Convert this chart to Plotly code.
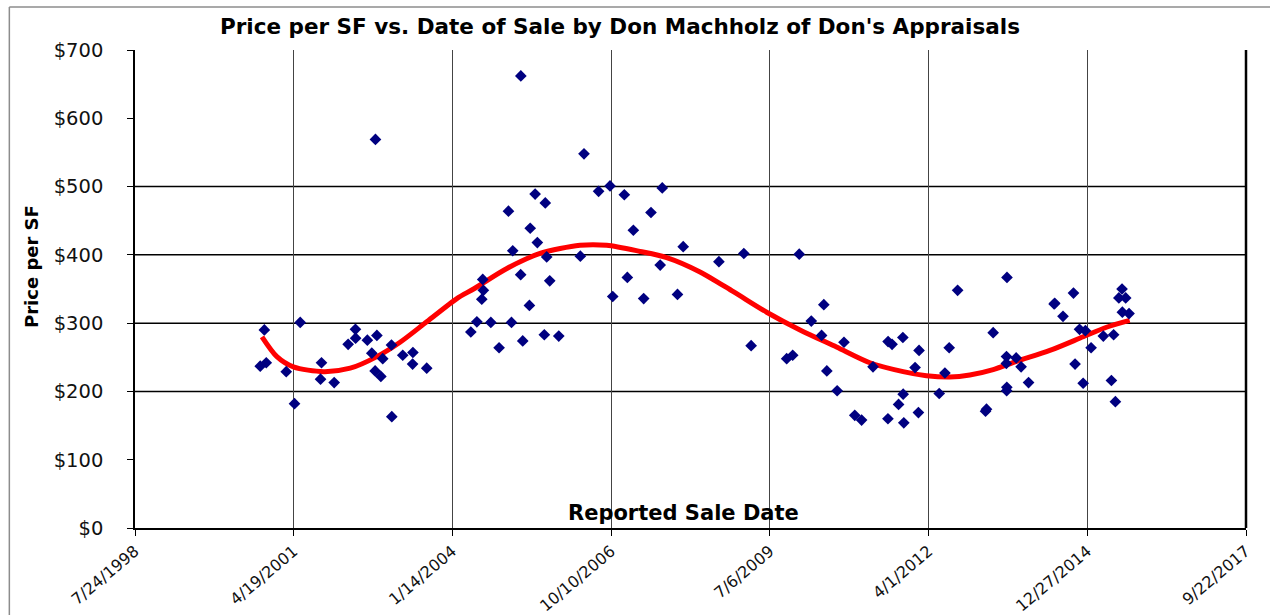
import plotly.graph_objects as go

# ---- data ----
sale_dates = [
    "2000-10-16", "2000-09-20", "2000-10-28", "2001-03-03", "2001-04-24", "2001-05-30",
    "2001-10-11", "2001-10-05", "2001-12-30", "2002-03-28", "2002-05-13", "2002-05-14",
    "2002-07-27", "2002-09-25", "2002-08-24", "2002-09-14", "2002-10-20", "2002-11-01",
    "2002-12-28", "2002-12-26", "2003-03-07", "2003-05-10", "2003-05-08", "2003-08-05",
    "2002-09-16",
    "2004-06-16", "2004-05-09", "2004-09-12", "2005-01-20", "2004-11-03", "2005-04-01",
    "2005-08-15", "2005-11-14", "2005-05-13", "2004-07-17", "2004-07-27", "2004-07-23",
    "2005-03-19", "2005-09-18", "2005-01-28", "2005-07-02", "2005-08-30", "2006-03-30",
    "2006-10-20", "2007-01-20",
    "2005-03-20", "2006-04-22", "2006-10-03", "2006-07-23", "2007-01-01", "2005-06-18",
    "2005-08-21", "2005-01-01", "2005-05-18", "2007-02-27",
    "2007-08-28", "2007-06-18", "2008-01-07", "2009-01-23", "2010-01-07", "2008-08-19",
    "2007-08-15", "2007-05-03", "2007-12-02", "2009-03-10", "2009-10-20", "2009-11-27",
    "2010-06-11", "2010-03-24", "2010-05-28", "2010-10-16", "2010-06-30", "2010-09-03",
    "2010-12-23", "2011-02-04", "2011-04-17", "2011-07-21", "2011-08-15", "2011-10-22",
    "2012-02-01", "2012-01-07", "2011-10-24", "2011-09-25", "2011-07-20", "2011-10-28",
    "2012-01-28", "2012-06-07", "2012-07-13", "2012-08-09", "2012-10-01",
    "2013-05-13", "2013-08-05", "2013-10-05", "2013-11-05", "2013-08-04", "2013-08-06",
    "2013-08-07", "2013-12-22", "2013-04-01", "2013-03-26", "2014-06-05", "2014-06-01",
    "2014-07-27", "2014-10-01", "2014-10-11", "2014-11-08", "2014-12-15", "2014-12-01",
    "2015-01-20", "2015-04-07", "2015-06-11", "2015-05-28", "2015-06-22", "2015-08-03",
    "2015-07-14", "2015-08-26", "2015-08-05", "2015-09-16", "2013-08-08",
]
price_per_sf = [
    290, 237, 242, 229, 182, 301,
    242, 218, 213, 269, 291, 278,
    275, 282, 256, 230, 222, 248,
    163, 268, 253, 257, 240, 234,
    569,
    302, 287, 301, 301, 264, 274,
    283, 281, 326, 335, 348, 364,
    371, 362, 406, 418, 397, 398,
    339, 367,
    662, 548, 501, 493, 488, 489,
    476, 464, 439, 436,
    498, 462, 412, 402, 401, 390,
    385, 336, 342, 267, 248, 253,
    327, 303, 282, 272, 230, 201,
    165, 158, 236, 273, 269, 279,
    260, 235, 196, 181, 160, 154,
    169, 197, 227, 264, 348,
    286, 251, 249, 236, 241, 201,
    206, 213, 174, 171, 329, 328,
    310, 344, 240, 291, 289, 212,
    264, 281, 283, 216, 185, 350,
    337, 337, 316, 314, 367,
]

trend_dates = [
    "2000-10-01", "2001-01-03", "2001-04-17", "2001-10-24", "2002-04-10", "2002-09-25",
    "2003-02-18", "2003-08-05", "2004-02-11", "2004-05-26", "2004-12-22", "2005-07-19",
    "2006-03-28", "2006-09-12", "2007-04-10", "2007-09-25", "2008-04-22", "2008-11-18",
    "2009-06-16", "2010-01-12", "2010-08-30", "2011-03-28", "2011-10-24", "2012-03-19",
    "2012-08-13", "2012-12-17", "2013-05-13", "2013-10-07", "2014-05-05", "2014-12-01",
    "2015-04-27", "2015-09-20",
]
trend_values = [
    280, 251, 236, 229, 234, 251,
    272, 302, 336, 350, 380, 402,
    414, 414, 405, 396, 375, 346,
    316, 290, 265, 242, 229, 223,
    221, 224, 232, 244, 260, 280,
    294, 304,
]

x_tick_dates = ["1998-07-24", "2001-04-19", "2004-01-14", "2006-10-10",
                "2009-07-06", "2012-04-01", "2014-12-27", "2017-09-22"]
x_tick_labels = ["7/24/1998", "4/19/2001", "1/14/2004", "10/10/2006",
                 "7/6/2009", "4/1/2012", "12/27/2014", "9/22/2017"]
y_tick_values = [0, 100, 200, 300, 400, 500, 600, 700]
y_tick_labels = ["$0", "$100", "$200", "$300", "$400", "$500", "$600", "$700"]
y_grid_values = [200, 300, 400, 500]

title_text = "Price per SF vs. Date of Sale by Don Machholz of Don's Appraisals"
y_title = "Price per SF"
x_title = "Reported Sale Date"

FONT = "DejaVu Sans"

fig = go.Figure()
fig.add_trace(go.Scatter(
    x=trend_dates, y=trend_values, mode="lines",
    line=dict(color="#FF0000", width=5, shape="spline", smoothing=0.8),
    showlegend=False, hoverinfo="skip",
))
fig.add_trace(go.Scatter(
    x=sale_dates, y=price_per_sf, mode="markers",
    marker=dict(symbol="diamond", size=9, color="#000080", line=dict(width=0)),
    showlegend=False,
))

for gy in y_grid_values:
    fig.add_shape(type="line", xref="paper", yref="y", x0=0, x1=1, y0=gy, y1=gy,
                  line=dict(color="#000000", width=1.5), layer="below")

# right plot border
fig.add_shape(type="line", xref="paper", yref="paper", x0=1, x1=1, y0=0, y1=1,
              line=dict(color="#000000", width=2.5))
# outer chart frame (top and left edges visible)
fig.add_shape(type="line", xref="paper", yref="paper", x0=-0.1131, x1=1.03, y0=1.0899, y1=1.0899,
              line=dict(color="#8c8c8c", width=1.5))
fig.add_shape(type="line", xref="paper", yref="paper", x0=-0.1131, x1=-0.1131, y0=-0.2, y1=1.0899,
              line=dict(color="#8c8c8c", width=1.5))

fig.add_annotation(text=f"<b>{title_text}</b>", xref="paper", yref="paper",
                   x=(620 - 135) / 1111, y=(528 - 26) / 478, xanchor="center", yanchor="middle",
                   showarrow=False, font=dict(family=FONT, size=21.5, color="#000000"))
fig.add_annotation(text=f"<b>{y_title}</b>", xref="paper", yref="paper",
                   x=(31 - 135) / 1111, y=(528 - 267) / 478, xanchor="center", yanchor="middle",
                   textangle=-90, showarrow=False,
                   font=dict(family=FONT, size=18, color="#000000"))
fig.add_annotation(text=f"<b>{x_title}</b>", xref="paper", yref="paper",
                   x=(683 - 135) / 1111, y=(528 - 513) / 478, xanchor="center", yanchor="middle",
                   showarrow=False, font=dict(family=FONT, size=21, color="#000000"))

fig.update_layout(
    width=1270, height=615,
    margin=dict(l=135, r=24, t=50, b=87, autoexpand=False),
    paper_bgcolor="white", plot_bgcolor="white",
    showlegend=False,
    xaxis=dict(
        type="date", range=[x_tick_dates[0], x_tick_dates[-1]],
        tickmode="array", tickvals=x_tick_dates, ticktext=x_tick_labels,
        tickangle=-40, ticks="outside", ticklen=6, tickcolor="#000000",
        showgrid=True, gridcolor="#444444", gridwidth=1,
        showline=True, linecolor="#000000", linewidth=1.5,
        zeroline=False, automargin=False,
        tickfont=dict(family=FONT, size=16, color="#111111"),
    ),
    yaxis=dict(
        range=[0, 700], tickmode="array", tickvals=y_tick_values, ticktext=y_tick_labels,
        ticks="outside", ticklen=6, tickcolor="#000000",
        showgrid=False, zeroline=False, automargin=False,
        showline=True, linecolor="#000000", linewidth=1.5,
        ticklabelstandoff=20,
        tickfont=dict(family=FONT, size=19.5, color="#111111"),
    ),
)

fig.write_html("out.html", config={"displayModeBar": False},
               post_script="document.body.style.margin='0px';")
